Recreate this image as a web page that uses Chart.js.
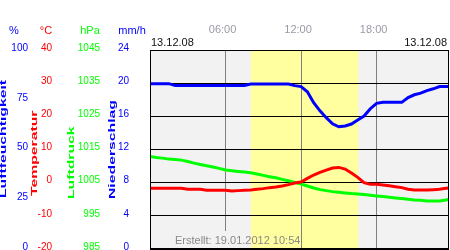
<!DOCTYPE html>
<html lang="de">
<head>
  <meta charset="UTF-8">
  <title>Wetter 13.12.08</title>
  <script src="https://cdn.jsdelivr.net/npm/chart.js"></script>
  <style>
    body {
      margin: 0;
      background: #fff;
    }
  </style>
</head>
<body>
  <canvas id="wetter" width="450" height="250"></canvas>

  <script>
    // Stunden des Tages (13.12.08)
    const hours = [0, 0.5, 1, 1.5, 2, 2.5, 3, 3.5, 4, 4.5, 5, 5.5, 6, 6.5, 7, 7.5, 8, 8.5, 9, 9.5, 10, 10.5, 11, 11.5,
      12, 12.5, 13, 13.5, 14, 14.5, 15, 15.5, 16, 16.5, 17, 17.5, 18, 18.5, 19, 19.5, 20, 20.5, 21, 21.5, 22, 22.5, 23, 23.5, 23.75];

    // Luftfeuchtigkeit in %
    const humidity = [83.1, 83.1, 83.1, 83.1, 82.1, 82.1, 82.1, 82.1, 82.1, 82.1, 82.1, 82.1, 82.1, 82.1, 82.1, 82.1,
      82.9, 82.9, 82.9, 82.9, 82.9, 82.9, 82.9, 82.1, 81.6, 79.0, 73.5, 69.4, 66.0, 62.9, 61.4, 61.8, 62.8, 64.8,
      66.8, 70.5, 73.2, 73.7, 73.7, 73.7, 73.7, 76.1, 77.5, 78.3, 79.6, 80.5, 81.6, 81.6, 81.6];

    // Temperatur in °C
    const temperature = [-1.7, -1.7, -1.7, -1.7, -1.7, -1.7, -2.0, -2.0, -2.0, -2.3, -2.3, -2.3, -2.3, -2.5, -2.4, -2.3,
      -2.2, -2.0, -1.8, -1.5, -1.3, -1.0, -0.6, -0.1, 0.2, 1.3, 2.3, 3.1, 3.8, 4.4, 4.6, 4.1, 2.9, 1.6,
      0.0, -0.5, -0.5, -0.7, -0.9, -1.2, -1.5, -2.0, -2.2, -2.2, -2.2, -2.1, -2.0, -1.7, -1.6];

    // Luftdruck in hPa
    const pressure = [1012.9, 1012.6, 1012.4, 1012.1, 1012.0, 1011.8, 1011.4, 1010.9, 1010.5, 1010.1, 1009.7, 1009.3,
      1008.8, 1008.6, 1008.4, 1008.2, 1008.0, 1007.6, 1007.2, 1006.8, 1006.5, 1006.0, 1005.6, 1005.1,
      1004.6, 1004.0, 1003.4, 1002.9, 1002.6, 1002.3, 1002.1, 1001.9, 1001.7, 1001.6, 1001.4, 1001.2,
      1001.0, 1000.8, 1000.6, 1000.4, 1000.2, 1000.0, 999.8, 999.7, 999.5, 999.5, 999.5, 999.8, 1000.0];

    // Tageslicht (von/bis, Stunden)
    const daylight = [8.0, 16.55];

    const hourTicks = [6, 12, 18];
    const hourLabels = ['06:00', '12:00', '18:00'];
    const dateLabel = '13.12.08';
    const createdLabel = 'Erstellt: 19.01.2012 10:54';

    const FONT = '"Liberation Sans", Arial, sans-serif';
    const BLUE = '#0000ff';
    const RED = '#ff0000';
    const GREEN = '#00ff00';
    const PLOT_BG = '#f2f2f2';

    function toPoints(values) {
      return hours.map((h, i) => ({ x: h, y: values[i] }));
    }

    // feste Breiten der linken Achsen, kein Überstand oben/unten
    function fixWidth(w) {
      return scale => {
        scale.width = w;
        scale.paddingTop = 0;
        scale.paddingBottom = 0;
      };
    }

    function leftAxis(min, max, step, color, width, padding, weight) {
      return {
        position: 'left',
        weight,
        min,
        max,
        grid: { display: false, drawTicks: false },
        border: { display: false },
        ticks: {
          stepSize: step,
          color,
          padding,
          labelOffset: -2,
          autoSkip: false,
          font: { family: FONT, size: 10 },
          callback: v => String(v)
        },
        afterFit: fixWidth(width)
      };
    }

    // Hintergrund, Tageslicht, Rahmen und Beschriftungen
    const decor = {
      id: 'decor',
      beforeDraw(chart) {
        const { ctx, chartArea: a } = chart;
        const x = chart.scales.x;
        ctx.save();
        ctx.fillStyle = '#fff';
        ctx.fillRect(0, 0, chart.width, chart.height);
        ctx.fillStyle = PLOT_BG;
        ctx.fillRect(a.left, a.top, a.right - a.left, a.bottom - a.top);
        const x0 = x.getPixelForValue(daylight[0]);
        const x1 = x.getPixelForValue(daylight[1]);
        ctx.fillStyle = '#ffffa0';
        ctx.fillRect(x0, a.top, x1 - x0, a.bottom - a.top);
        ctx.restore();
      },
      afterDraw(chart) {
        const { ctx, chartArea: a } = chart;
        ctx.save();

        // Feld hinter "Erstellt" verdeckt die 06:00-Linie
        const dayStart = chart.scales.x.getPixelForValue(daylight[0]);
        ctx.fillStyle = PLOT_BG;
        ctx.fillRect(173, 231, dayStart - 173, a.bottom - 232);

        ctx.strokeStyle = '#000';
        ctx.lineWidth = 1;
        ctx.strokeRect(a.left + 0.5, a.top + 0.5, a.right - a.left - 1, a.bottom - a.top - 1);

        // Einheiten
        ctx.font = '11px ' + FONT;
        ctx.textAlign = 'center';
        ctx.textBaseline = 'middle';
        [['%', 14, BLUE], ['°C', 46, RED], ['hPa', 90, GREEN], ['mm/h', 132, BLUE]].forEach(([t, x, c]) => {
          ctx.fillStyle = c;
          ctx.fillText(t, x, 31);
        });

        // Datum
        ctx.fillStyle = '#111';
        ctx.textAlign = 'left';
        ctx.fillText(dateLabel, a.left + 1, 43);
        ctx.textAlign = 'right';
        ctx.fillText(dateLabel, a.right - 2, 43);

        ctx.fillStyle = '#888';
        ctx.textAlign = 'left';
        ctx.fillText(createdLabel, 175, 241);

        // senkrechte Achsentitel, gestreckt
        [['Luftfeuchtigkeit', 4, 198, BLUE], ['Temperatur', 35, 196, RED],
         ['Luftdruck', 72, 199, GREEN], ['Niederschlag', 113, 199, BLUE]].forEach(([t, x, y, c]) => {
          ctx.save();
          ctx.translate(x, y);
          ctx.rotate(-Math.PI / 2);
          ctx.scale(1.75, 1);
          ctx.font = 'bold 9px ' + FONT;
          ctx.textAlign = 'left';
          ctx.textBaseline = 'middle';
          ctx.fillStyle = c;
          ctx.fillText(t, 0, 0);
          ctx.restore();
        });
        ctx.restore();
      }
    };

    new Chart(document.getElementById('wetter'), {
      type: 'line',
      data: {
        datasets: [
          { label: 'Temperatur', data: toPoints(temperature), yAxisID: 'yT', borderColor: RED },
          { label: 'Luftdruck', data: toPoints(pressure), yAxisID: 'yP', borderColor: GREEN },
          { label: 'Luftfeuchtigkeit', data: toPoints(humidity), yAxisID: 'yH', borderColor: BLUE }
        ]
      },
      options: {
        responsive: false,
        animation: false,
        devicePixelRatio: 1,
        layout: { padding: { left: 0, top: 0, right: 1, bottom: 1 } },
        elements: {
          point: { radius: 0 },
          line: { borderWidth: 3, tension: 0, fill: false }
        },
        plugins: {
          legend: { display: false },
          tooltip: { enabled: false }
        },
        scales: {
          x: {
            type: 'linear',
            position: 'top',
            min: 0,
            max: 23.75,
            afterBuildTicks: s => { s.ticks = hourTicks.map(v => ({ value: v })); },
            afterFit: s => { s.height = 50; s.paddingLeft = 0; s.paddingRight = 0; },
            grid: { color: '#808080', lineWidth: 1, drawTicks: false },
            border: { display: false },
            ticks: {
              color: '#9a9aa6',
              padding: 13,
              labelOffset: -3,
              maxRotation: 0,
              autoSkip: false,
              font: { family: FONT, size: 11 },
              callback: (v, i) => hourLabels[i]
            }
          },
          yH: leftAxis(0, 100, 25, BLUE, 31, 3, 4),
          yT: leftAxis(-20, 40, 10, RED, 24, 3, 3),
          yP: leftAxis(985, 1045, 10, GREEN, 48, 3, 2),
          yN: Object.assign(leftAxis(0, 24, 4, BLUE, 47, 21, 1), {
            grid: { display: true, color: '#000', lineWidth: 1, drawTicks: false }
          })
        }
      },
      plugins: [decor]
    });
  </script>
</body>
</html>
